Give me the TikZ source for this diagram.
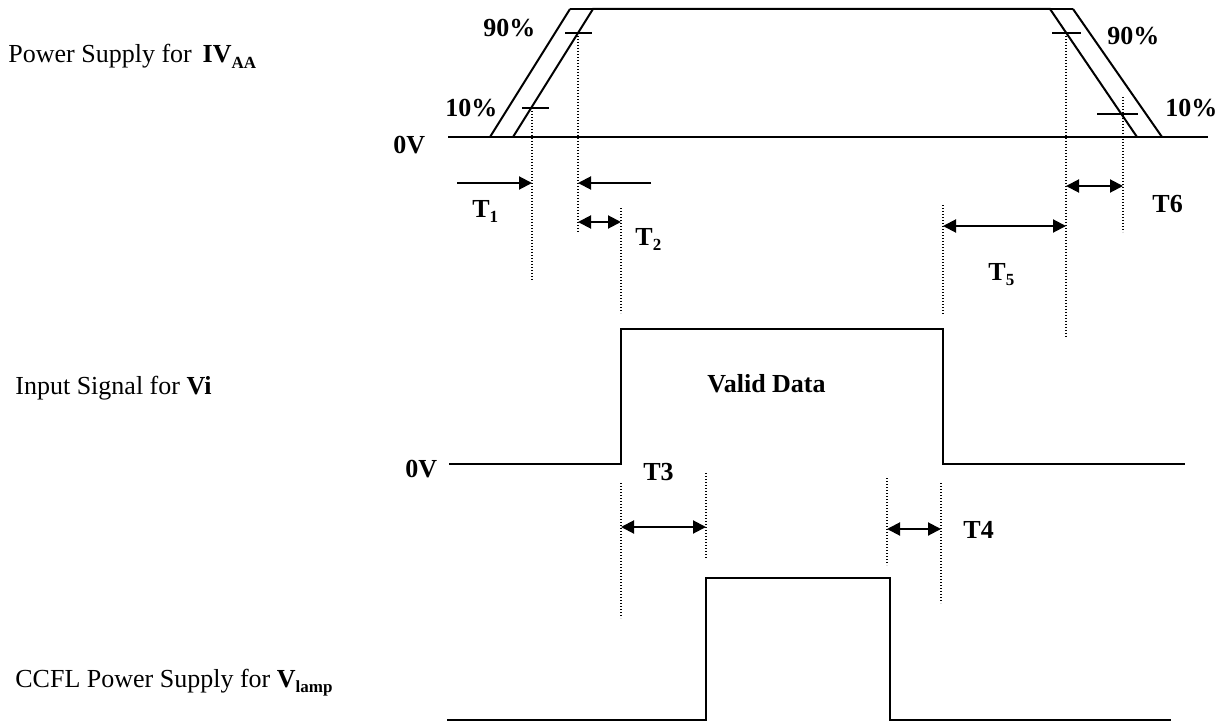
\documentclass[tikz,border=0pt]{standalone}
\usepackage{fontspec}
\setmainfont{Liberation Serif}
\usetikzlibrary{arrows.meta}
\newcommand{\lowsub}[1]{\raisebox{-0.45ex}{\fontsize{8.5}{10}\selectfont #1}}
\begin{document}
\begin{tikzpicture}[x=0.5pt,y=-0.5pt,
  wave/.style={line width=1pt},
  hair/.style={line width=0.7pt},
  guide/.style={line width=0.6pt, dash pattern=on 0.6pt off 0.9pt},
  dimarrow/.style={line width=1pt, {Triangle[length=6.5pt,width=6.5pt]}-{Triangle[length=6.5pt,width=6.5pt]}},
  onearrow/.style={line width=1pt, -{Triangle[length=6.5pt,width=6.5pt]}},
  lbl/.style={inner sep=0pt, anchor=base west, font=\fontsize{13}{15}\selectfont\bfseries},
  side/.style={inner sep=0pt, anchor=base west, font=\fontsize{13}{15}\selectfont}]
\useasboundingbox (0,0) rectangle (1226,722);

% ---- side labels
\node[side] (lab1) at (8,63) {Power Supply for \,\textbf{IV\lowsub{AA}}};
\node[side] (lab2) at (15,394) {Input Signal for \textbf{Vi}};
\node[side] (lab3) at (15,687) {CCFL Power Supply for \textbf{V\lowsub{lamp}}};

% ---- power supply waveform
\draw[hair] (448,137) -- (1208,137);
\draw[wave] (490,137) -- (570,9);
\draw[wave] (513,137) -- (593,9) -- (1050,9) -- (1137,137);
\draw[wave] (1073,9) -- (1162,137);
\draw[hair] (570,9) -- (593,9);
\draw[hair] (1050,9) -- (1073,9);
% 10% / 90% ticks
\draw[wave] (565,33) -- (592,33);
\draw[wave] (522,108) -- (549,108);
\draw[wave] (1052,33) -- (1081,33);
\draw[wave] (1097,114) -- (1138,114);

% ---- guide coordinates
\coordinate (g10L) at (532,108);
\coordinate (g90L) at (578,33);
\coordinate (g90R) at (1066,33);
\coordinate (g10R) at (1123,97);

% ---- dotted guide lines
\draw[guide] (g10L) -- (532,280);
\draw[guide] (g90L) -- (578,233);
\draw[guide] (621,208) -- (621,313);
\draw[guide] (g90R) -- (1066,338);
\draw[guide] (g10R) -- (1123,232);
\draw[guide] (943,205) -- (943,315);
\draw[guide] (621,483) -- (621,618);
\draw[guide] (706,473) -- (706,558);
\draw[guide] (887,478) -- (887,565);
\draw[guide] (941,483) -- (941,603);

% ---- arrows
\coordinate (t1s) at (457,183);
\coordinate (t1e) at (532,183);
\coordinate (t2s) at (651,183);
\coordinate (t2e) at (578,183);
\draw[onearrow] (t1s) -- (t1e);
\draw[onearrow] (t2s) -- (t2e);
\coordinate (d2a) at (578,222); \coordinate (d2b) at (621,222);
\draw[dimarrow] (d2a) -- (d2b);
\coordinate (d5a) at (943,226); \coordinate (d5b) at (1066,226);
\draw[dimarrow] (d5a) -- (d5b);
\coordinate (d6a) at (1066,186); \coordinate (d6b) at (1123,186);
\draw[dimarrow] (d6a) -- (d6b);
\coordinate (d3a) at (621,527); \coordinate (d3b) at (706,527);
\draw[dimarrow] (d3a) -- (d3b);
\coordinate (d4a) at (887,529); \coordinate (d4b) at (941,529);
\draw[dimarrow] (d4a) -- (d4b);

% ---- input signal
\draw[wave] (449,464) -- (621,464) -- (621,329) -- (943,329) -- (943,464) -- (1185,464);

% ---- lamp supply
\draw[wave] (447,720) -- (706,720) -- (706,578) -- (890,578) -- (890,720) -- (1171,720);

% ---- bold labels
\node[lbl] (p90L) at (483,37) {90\%};
\node[lbl] (p10L) at (445,117) {10\%};
\node[lbl] (v0a) at (393,154) {0V};
\node[lbl] (p90R) at (1107,45) {90\%};
\node[lbl] (p10R) at (1165,117) {10\%};
\node[lbl] (T1) at (472,217) {T\lowsub{1}};
\node[lbl] (T2) at (635,245) {T\lowsub{2}};
\node[lbl] (T5) at (988,280) {T\lowsub{5}};
\node[lbl] (T6) at (1152,213) {T6};
\node[lbl] (valid) at (707,392) {Valid Data};
\node[lbl] (v0b) at (405,477) {0V};
\node[lbl] (T3) at (643,480) {T3};
\node[lbl] (T4) at (963,538) {T4};
\end{tikzpicture}
\end{document}
